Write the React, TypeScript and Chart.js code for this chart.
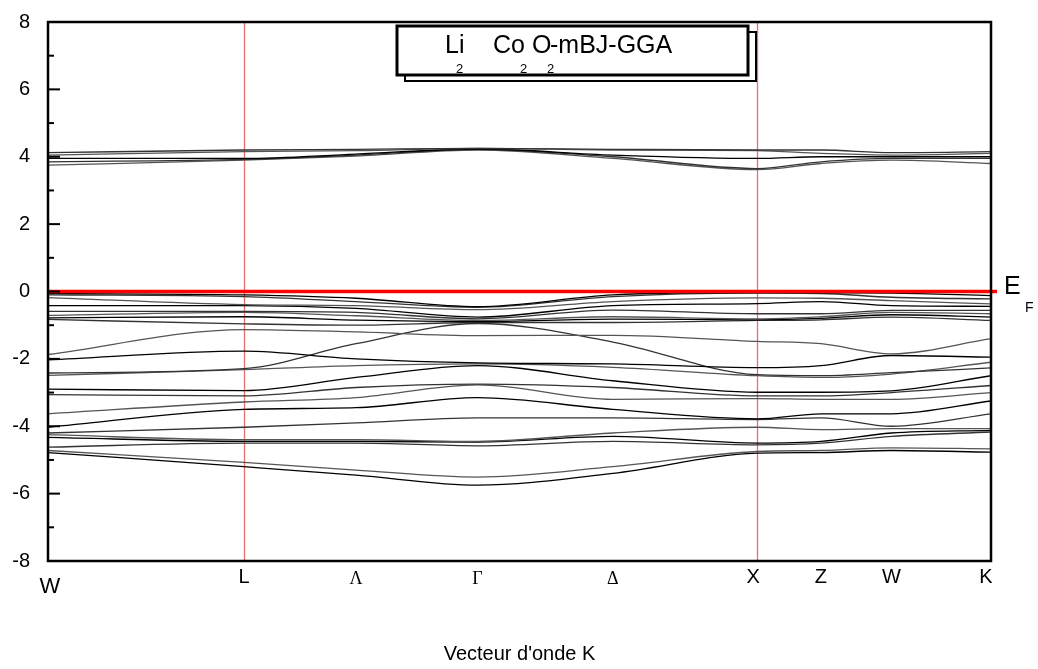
import React, { useEffect, useRef } from "react";
import { Chart, registerables } from "chart.js";

Chart.register(...registerables);

// k-path positions (fraction of path) and their labels
const kPositions = [0, 0.2078, 0.3266, 0.4555, 0.599, 0.752, 0.8197, 0.8945, 1.0];
const kLabels = ["W", "L", "Λ", "Γ", "Δ", "X", "Z", "W", "K"];
const kVerticalLines = [0.2078, 0.752];

// Valence band energies (eV) at each sample k point (entry i belongs to band i)
const valenceAtW = [-0.06, -0.1, -0.18, -0.42, -0.59, -0.71, -0.78, -0.83, -1.87, -2.03, -2.42, -2.49, -2.9, -3.06, -3.63, -4.03, -4.2, -4.25, -4.33, -4.62, -4.72, -4.78];
const valenceAtL = [-0.1, -0.15, -0.39, -0.42, -0.59, -0.62, -0.75, -0.96, -1.13, -1.77, -2.29, -2.32, -2.94, -3.1, -3.28, -3.5, -4.03, -4.4, -4.45, -4.5, -5.07, -5.2];
const valenceAtLambda = [-0.2, -0.3, -0.42, -0.5, -0.62, -0.72, -0.85, -1.0, -1.2, -2.0, -1.55, -2.2, -2.55, -2.85, -3.15, -3.45, -3.9, -4.4, -4.45, -4.5, -5.3, -5.45];
const valenceAtGamma = [-0.45, -0.47, -0.54, -0.76, -0.81, -0.86, -0.89, -0.92, -1.31, -2.12, -0.95, -2.15, -2.2, -2.75, -2.77, -3.15, -3.75, -4.45, -4.47, -4.58, -5.51, -5.75];
const valenceAtDelta = [-0.1, -0.15, -0.3, -0.42, -0.55, -0.75, -0.82, -0.92, -1.3, -2.15, -1.5, -2.25, -2.65, -2.85, -3.2, -3.5, -3.75, -4.2, -4.3, -4.45, -5.2, -5.4];
const valenceAtX = [-0.03, -0.05, -0.19, -0.36, -0.66, -0.81, -0.84, -0.86, -1.48, -2.26, -2.47, -2.5, -2.99, -3.1, -3.18, -3.78, -3.8, -4.03, -4.5, -4.55, -4.75, -4.8];
const valenceAtZ = [-0.04, -0.06, -0.2, -0.3, -0.66, -0.75, -0.8, -0.84, -1.55, -2.2, -2.5, -2.55, -2.99, -3.1, -3.2, -3.63, -3.75, -4.1, -4.45, -4.5, -4.72, -4.78];
const valenceAtW2 = [-0.05, -0.17, -0.27, -0.42, -0.56, -0.62, -0.69, -0.76, -1.85, -1.9, -2.41, -2.45, -2.95, -3.0, -3.2, -3.63, -4.0, -4.07, -4.2, -4.3, -4.64, -4.72];
const valenceAtK = [-0.12, -0.22, -0.37, -0.44, -0.56, -0.66, -0.76, -0.86, -1.4, -1.95, -2.27, -2.1, -2.5, -2.79, -3.0, -3.25, -3.63, -4.07, -4.12, -4.17, -4.67, -4.77];

// Conduction band energies (eV) at each sample k point
const conductionAtW = [4.12, 4.05, 3.95, 3.85, 3.75];
const conductionAtL = [4.2, 4.15, 3.95, 3.92, 3.9];
const conductionAtLambda = [4.22, 4.18, 4.08, 4.05, 4.02];
const conductionAtGamma = [4.25, 4.25, 4.23, 4.22, 4.2];
const conductionAtDelta = [4.22, 4.2, 4.05, 4.0, 3.95];
const conductionAtX = [4.2, 4.18, 3.95, 3.65, 3.62];
const conductionAtZ = [4.2, 4.1, 4.0, 3.85, 3.8];
const conductionAtW2 = [4.12, 4.05, 4.0, 3.95, 3.9];
const conductionAtK = [4.15, 4.1, 4.0, 3.95, 3.8];

const yTicks = [-8, -6, -4, -2, 0, 2, 4, 6, 8];

const valenceTable = [valenceAtW, valenceAtL, valenceAtLambda, valenceAtGamma, valenceAtDelta, valenceAtX, valenceAtZ, valenceAtW2, valenceAtK];
const conductionTable = [conductionAtW, conductionAtL, conductionAtLambda, conductionAtGamma, conductionAtDelta, conductionAtX, conductionAtZ, conductionAtW2, conductionAtK];

const bandColors = ["#000000", "#333333", "#555555"];

function buildDatasets() {
  const sets: any[] = [];
  const addTable = (table: number[][]) => {
    const n = table[0].length;
    for (let b = 0; b < n; b++) {
      sets.push({
        data: kPositions.map((k, i) => ({ x: k, y: table[i][b] })),
        borderColor: bandColors[sets.length % bandColors.length],
        borderWidth: 1.3,
        pointRadius: 0,
        fill: false,
        cubicInterpolationMode: "monotone",
      });
    }
  };
  addTable(valenceTable);
  addTable(conductionTable);
  return sets;
}

const SANS = "'Liberation Sans', Arial, sans-serif";
const SERIF = "'Liberation Serif', 'Times New Roman', serif";

const overlay = {
  id: "overlay",
  beforeDatasetsDraw(chart: any) {
    const { ctx, chartArea: a, scales } = chart;
    ctx.save();
    ctx.strokeStyle = "rgba(228,95,95,0.9)";
    ctx.lineWidth = 1.3;
    kVerticalLines.forEach((k) => {
      const px = Math.round(scales.x.getPixelForValue(k)) + 0.5;
      ctx.beginPath();
      ctx.moveTo(px, a.top);
      ctx.lineTo(px, a.bottom);
      ctx.stroke();
    });
    ctx.restore();
  },
  afterDatasetsDraw(chart: any) {
    const { ctx, chartArea: a, scales } = chart;
    const xs = scales.x;
    const ys = scales.y;
    ctx.save();
    // Fermi level
    const y0 = ys.getPixelForValue(0);
    ctx.strokeStyle = "#ff0000";
    ctx.lineWidth = 3.5;
    ctx.beginPath();
    ctx.moveTo(a.left, y0);
    ctx.lineTo(a.right + 6, y0);
    ctx.stroke();

    // frame
    ctx.strokeStyle = "#000";
    ctx.lineWidth = 2.5;
    ctx.strokeRect(a.left, a.top, a.right - a.left, a.bottom - a.top);

    // inner ticks on the y axis
    ctx.lineWidth = 2;
    for (let v = -7; v <= 7; v++) {
      const py = ys.getPixelForValue(v);
      const len = v % 2 === 0 ? 12 : 6;
      ctx.beginPath();
      ctx.moveTo(a.left, py);
      ctx.lineTo(a.left + len, py);
      ctx.stroke();
    }

    // k labels
    ctx.fillStyle = "#000";
    ctx.textAlign = "center";
    ctx.textBaseline = "middle";
    kLabels.forEach((lab, i) => {
      let px = xs.getPixelForValue(kPositions[i]);
      let py = a.bottom + 16;
      const greek = lab === "Λ" || lab === "Γ" || lab === "Δ";
      if (greek) {
        ctx.font = `18px ${SERIF}`;
        py += 2;
      } else {
        ctx.font = `20px ${SANS}`;
      }
      if (i === 0) {
        ctx.font = `22px ${SANS}`;
        px += 2;
        py += 10;
      }
      if (i === kLabels.length - 1) px -= 5;
      if (lab === "X") px -= 4;
      ctx.fillText(lab, px, py);
    });

    // E_F label
    ctx.textAlign = "left";
    ctx.textBaseline = "alphabetic";
    ctx.font = `25px ${SANS}`;
    ctx.fillText("E", 1004, 294);
    ctx.font = `14px ${SANS}`;
    ctx.fillText("F", 1025, 312);

    // legend box with shadow outline
    ctx.lineWidth = 2;
    ctx.strokeRect(405, 32, 351, 49);
    ctx.fillStyle = "#fff";
    ctx.fillRect(397, 26, 351, 49);
    ctx.lineWidth = 3;
    ctx.strokeStyle = "#000";
    ctx.strokeRect(397, 26, 351, 49);
    ctx.fillStyle = "#000";
    ctx.font = `25px ${SANS}`;
    ctx.fillText("Li", 445, 53);
    ctx.fillText("Co", 493, 53);
    ctx.fillText("O", 532, 53);
    ctx.fillText("-mBJ-GGA", 550, 53);
    ctx.font = `13px ${SANS}`;
    ctx.fillText("2", 456, 73);
    ctx.fillText("2", 520, 73);
    ctx.fillText("2", 547, 73);

    // axis title
    ctx.textAlign = "center";
    ctx.font = `20px ${SANS}`;
    ctx.fillText("Vecteur d'onde K", (a.left + a.right) / 2, 660);
    ctx.restore();
  },
};

export default function App() {
  const ref = useRef<HTMLCanvasElement>(null);
  useEffect(() => {
    if (!ref.current) return;
    const chart = new Chart(ref.current, {
      type: "line",
      data: { datasets: buildDatasets() },
      options: {
        animation: false,
        responsive: false,
        devicePixelRatio: 1,
        layout: { padding: { left: 0, right: 47, top: 22, bottom: 0 } },
        plugins: { legend: { display: false }, tooltip: { enabled: false } },
        scales: {
          x: {
            type: "linear",
            min: 0,
            max: 1,
            grid: { display: false, drawTicks: false },
            border: { display: false },
            ticks: { display: false },
            afterFit: (s: any) => {
              s.height = 108;
              s.paddingLeft = 0;
              s.paddingRight = 0;
            },
          },
          y: {
            type: "linear",
            min: -8,
            max: 8,
            grid: { display: false, drawTicks: false },
            border: { display: false },
            afterBuildTicks: (s: any) => {
              s.ticks = yTicks.map((v) => ({ value: v }));
            },
            ticks: {
              color: "#000",
              padding: 18,
              font: { family: SANS, size: 20 },
              callback: (v: any) => String(v),
            },
            afterFit: (s: any) => {
              s.width = 48;
              s.paddingTop = 0;
              s.paddingBottom = 0;
            },
          },
        },
      },
      plugins: [overlay],
    } as any);
    return () => chart.destroy();
  }, []);
  return (
    <div style={{ position: "absolute", left: 0, top: 0, width: 1038, height: 669, background: "#fff" }}>
      <canvas ref={ref} width={1038} height={669} style={{ display: "block" }} />
    </div>
  );
}
